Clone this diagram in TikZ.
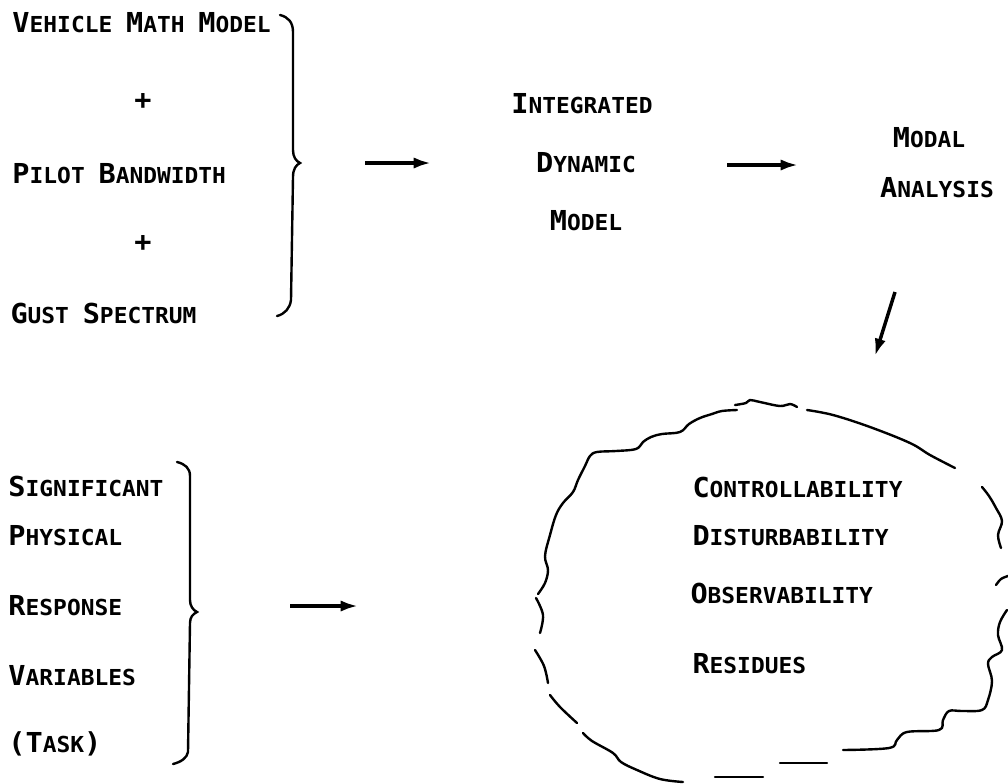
\documentclass[tikz,border=0pt]{standalone}
\usepackage{fontspec}
\usetikzlibrary{arrows.meta}
\newfontfamily\typer[FakeStretch=1.04]{DejaVu Sans Mono}
\newcommand{\kap}[1]{{\fontsize{20.6pt}{24pt}\selectfont #1}}

\tikzset{every picture/.style={line width=0.75pt}}
\tikzset{
  lbl/.style={inner sep=0pt,font=\typer\bfseries\fontsize{16.5pt}{20pt}\selectfont},
  bracel/.style={line width=1.8pt,line cap=round},
  arrowln/.style={line width=2.6pt,-{Latex[length=13pt,width=8.5pt]}},
  wavy/.style={line width=1.8pt,line cap=round,smooth,tension=0.6}
}

\begin{document}
\begin{tikzpicture}[x=0.75pt,y=0.75pt,yscale=-1,xscale=1]
\useasboundingbox (0,0) rectangle (1008,783);

%Brace [id:upper]
\draw [bracel] (280,15) .. controls (288,17) and (293,22) .. (293,32) -- (293,150) .. controls (293,157) and (296,161) .. (300,163) .. controls (296,165) and (293,169) .. (293,177) -- (291,300) .. controls (290,308) and (285,314) .. (277,316) ;
%Brace [id:lower]
\draw [bracel] (177,462) .. controls (185,464) and (190,468) .. (190,476) -- (190,600) .. controls (190,606) and (193,610) .. (197,612) .. controls (193,614) and (190,617) .. (190,623) -- (188,752) .. controls (187,758) and (181,762) .. (173,764) ;

%Wavy outline
\draw [wavy] plot coordinates {(538,594) (545,583) (548,570) (545,556) (550,535) (556,515) (563,503) (573,492) (578,480) (585,466) (590,456) (597,452) (616,451) (636,449) (643,442) (651,437) (662,434) (680,432) (689,424) (700,418) (712,414) (722,411) (737,410)};
\draw [wavy] plot coordinates {(735,405) (746,403) (750,400) (760,402) (780,406) (790,404) (797,407)};
\draw [wavy] plot coordinates {(807,410) (833,415) (870,427) (910,443) (930,455) (955,468)};
\draw [wavy] plot coordinates {(982,487) (989,496) (996,508) (1002,521) (998,535) (1001,548)};
\draw [wavy] plot coordinates {(996,585) (1001,579) (1008,576)};
\draw [wavy] plot coordinates {(1007,610) (1000,622) (998,635) (1002,650) (992,657) (988,664) (992,681) (988,700) (982,710) (962,711) (949,711) (943,720) (939,730) (907,732) (897,740) (889,748) (843,750)};
\draw [wavy] plot coordinates {(780,763) (827,763)};
\draw [wavy] plot coordinates {(715,777) (763,777)};
\draw [wavy] plot coordinates {(683,782) (660,779) (637,770) (621,762) (613,753) (592,741) (583,733)};
\draw [wavy] plot coordinates {(577,723) (560,707) (550,695)};
\draw [wavy] plot coordinates {(535,650) (544,666) (548,683)};
\draw [wavy] plot coordinates {(536,598) (543,615) (540,633)};

%Arrow ends
\coordinate (a1s) at (365,163) ;
\coordinate (a1e) at (431,163) ;
\coordinate (a2s) at (727,165) ;
\coordinate (a2e) at (798,165) ;
\coordinate (a3s) at (895,292) ;
\coordinate (a3e) at (875,356) ;
\coordinate (a4s) at (290,606) ;
\coordinate (a4e) at (358,606) ;
\draw [arrowln] (a1s) -- (a1e) ;
\draw [arrowln] (a2s) -- (a2e) ;
\draw [arrowln] (a3s) -- (a3e) ;
\draw [arrowln] (a4s) -- (a4e) ;

% Text Node
\draw (12,32) node [anchor=base west][lbl] (vmm) {\kap{V}EHICLE \kap{M}ATH \kap{M}ODEL};
% Text Node
\draw (143,102) node [lbl] (plusa) {\kap{+}};
% Text Node
\draw (12,183) node [anchor=base west][lbl] (pbw) {\kap{P}ILOT \kap{B}ANDWIDTH};
% Text Node
\draw (143,243) node [lbl] (plusb) {\kap{+}};
% Text Node
\draw (10,323) node [anchor=base west][lbl] (gust) {\kap{G}UST \kap{S}PECTRUM};
% Text Node
\draw (582,113) node [anchor=base][lbl] (idm) {\kap{I}NTEGRATED};
% Text Node
\draw (586,172) node [anchor=base][lbl] (dyn) {\kap{D}YNAMIC};
% Text Node
\draw (586,230) node [anchor=base][lbl] (mdl) {\kap{M}ODEL};
% Text Node
\draw (929,147) node [anchor=base][lbl] (modal) {\kap{M}ODAL};
% Text Node
\draw (937,197) node [anchor=base][lbl] (anl) {\kap{A}NALYSIS};
% Text Node
\draw (8,496) node [anchor=base west][lbl] (sig) {\kap{S}IGNIFICANT};
% Text Node
\draw (8,545) node [anchor=base west][lbl] (phy) {\kap{P}HYSICAL};
% Text Node
\draw (8,615) node [anchor=base west][lbl] (rsp) {\kap{R}ESPONSE};
% Text Node
\draw (8,685) node [anchor=base west][lbl] (var) {\kap{V}ARIABLES};
% Text Node
\draw (8,752) node [anchor=base west][lbl] (task) {\kap{(T}ASK\kap{)}};
% Text Node
\draw (692,497) node [anchor=base west][lbl] (ctrl) {\kap{C}ONTROLLABILITY};
% Text Node
\draw (692,545) node [anchor=base west][lbl] (dist) {\kap{D}ISTURBABILITY};
% Text Node
\draw (690,603) node [anchor=base west][lbl] (obs) {\kap{O}BSERVABILITY};
% Text Node
\draw (692,673) node [anchor=base west][lbl] (res) {\kap{R}ESIDUES};

\end{tikzpicture}
\end{document}
